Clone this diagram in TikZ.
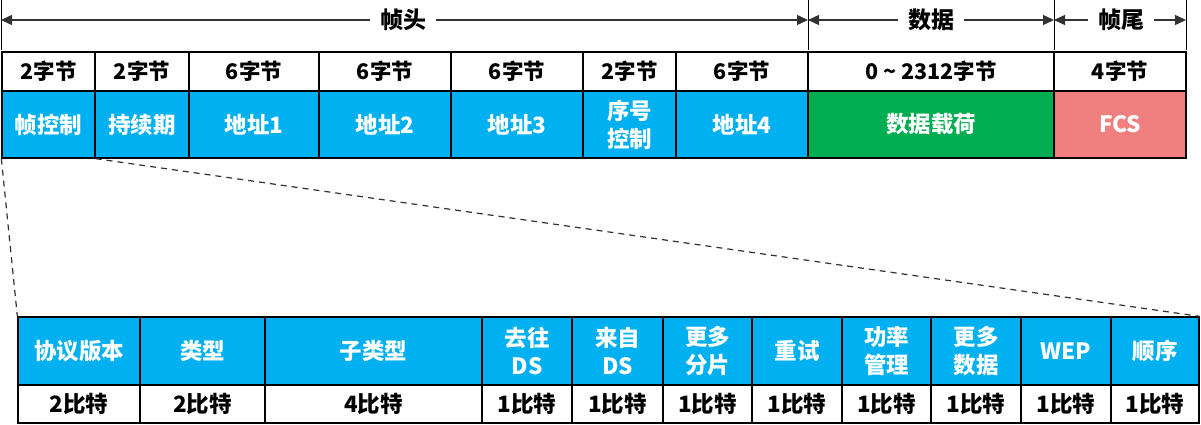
\documentclass[tikz,border=0pt]{standalone}
\usepackage{fontspec}
\setmainfont{Noto Sans CJK SC}
\usetikzlibrary{arrows.meta}
\definecolor{cellblue}{RGB}{0,176,240}
\definecolor{cellgreen}{RGB}{0,173,80}
\definecolor{cellpink}{RGB}{240,128,128}
\definecolor{arrowgray}{RGB}{50,50,50}
\newcommand{\mkcell}[7]{\node[#1, minimum width={#4-#3}, minimum height={#6-#5}] (#2) at ({(#3+#4)/2},{(#5+#6)/2}) {#7};}
\begin{document}
\begin{tikzpicture}[x=1pt,y=-1pt,
  cellbox/.style={draw=black, line width=1.3pt, inner sep=0pt, align=center},
  headcell/.style={cellbox, fill=white, text=black, font=\fontsize{21.5}{24}\selectfont\bfseries},
  bluecell/.style={cellbox, fill=cellblue, text=white, font=\fontsize{22.5}{28}\selectfont\bfseries},
  greencell/.style={cellbox, fill=cellgreen, text=white, font=\fontsize{22.5}{28}\selectfont\bfseries},
  pinkcell/.style={cellbox, fill=cellpink, text=white, font=\fontsize{22.5}{28}\selectfont\bfseries},
  bitcell/.style={cellbox, fill=white, text=black, font=\fontsize{22.5}{28}\selectfont\bfseries},
  spanlabel/.style={inner xsep=10pt, inner ysep=0pt, font=\fontsize{23}{28}\selectfont\bfseries},
  spanarrow/.style={draw=arrowgray, line width=1.3pt, -{Triangle[length=11pt,width=10pt]}},
  tick/.style={draw=black, line width=1pt},
  zoomline/.style={draw=arrowgray, line width=1.2pt, dash pattern=on 6pt off 5pt}]
\useasboundingbox (0,0) rectangle (1201,425);
\fill[white] (0,0) rectangle (1201,425);

% span ticks
\coordinate (k0) at (1,0);
\coordinate (k1) at (808,0);
\coordinate (k2) at (1054,0);
\coordinate (k3) at (1186,0);
\foreach \k in {k0,k1,k2,k3} \draw[tick] (\k) -- ++(0,50);

% span labels
\node[spanlabel] (L1) at (403,20) {帧头};
\node[spanlabel] (L2) at (931,20) {数据};
\node[spanlabel] (L3) at (1121,20) {帧尾};
\draw[spanarrow] (L1.west) -- (L1.west -| k0);
\draw[spanarrow] (L1.east) -- (L1.east -| k1);
\draw[spanarrow] (L2.west) -- (L2.west -| k1);
\draw[spanarrow] (L2.east) -- (L2.east -| k2);
\draw[spanarrow] (L3.west) -- (L3.west -| k2);
\draw[spanarrow] (L3.east) -- (L3.east -| k3);

% top table: byte sizes
\mkcell{headcell}{t1}{2}{95}{52}{91}{2字节}
\mkcell{headcell}{t2}{95}{189}{52}{91}{2字节}
\mkcell{headcell}{t3}{189}{319}{52}{91}{6字节}
\mkcell{headcell}{t4}{319}{451}{52}{91}{6字节}
\mkcell{headcell}{t5}{451}{583}{52}{91}{6字节}
\mkcell{headcell}{t6}{583}{676}{52}{91}{2字节}
\mkcell{headcell}{t7}{676}{808}{52}{91}{6字节}
\mkcell{headcell}{t8}{808}{1054}{52}{91}{0 \textasciitilde{} 2312字节}
\mkcell{headcell}{t9}{1054}{1186}{52}{91}{4字节}

% top table: fields
\mkcell{bluecell}{h1}{2}{95}{91}{158}{帧控制}
\mkcell{bluecell}{h2}{95}{189}{91}{158}{持续期}
\mkcell{bluecell}{h3}{189}{319}{91}{158}{地址1}
\mkcell{bluecell}{h4}{319}{451}{91}{158}{地址2}
\mkcell{bluecell}{h5}{451}{583}{91}{158}{地址3}
\mkcell{bluecell}{h6}{583}{676}{91}{158}{序号\\控制}
\mkcell{bluecell}{h7}{676}{808}{91}{158}{地址4}
\mkcell{greencell}{h8}{808}{1054}{91}{158}{数据载荷}
\mkcell{pinkcell}{h9}{1054}{1186}{91}{158}{FCS}

% bottom table: frame control subfields
\mkcell{bluecell}{b1}{18}{140}{317}{385}{协议版本}
\mkcell{bluecell}{b2}{140}{265}{317}{385}{类型}
\mkcell{bluecell}{b3}{265}{482}{317}{385}{子类型}
\mkcell{bluecell}{b4}{482}{572}{317}{385}{去往\\DS}
\mkcell{bluecell}{b5}{572}{663}{317}{385}{来自\\DS}
\mkcell{bluecell}{b6}{663}{752}{317}{385}{更多\\分片}
\mkcell{bluecell}{b7}{752}{842}{317}{385}{重试}
\mkcell{bluecell}{b8}{842}{931}{317}{385}{功率\\管理}
\mkcell{bluecell}{b9}{931}{1021}{317}{385}{更多\\数据}
\mkcell{bluecell}{b10}{1021}{1111}{317}{385}{WEP}
\mkcell{bluecell}{b11}{1111}{1199}{317}{385}{顺序}

\mkcell{bitcell}{c1}{18}{140}{385}{423}{2比特}
\mkcell{bitcell}{c2}{140}{265}{385}{423}{2比特}
\mkcell{bitcell}{c3}{265}{482}{385}{423}{4比特}
\mkcell{bitcell}{c4}{482}{572}{385}{423}{1比特}
\mkcell{bitcell}{c5}{572}{663}{385}{423}{1比特}
\mkcell{bitcell}{c6}{663}{752}{385}{423}{1比特}
\mkcell{bitcell}{c7}{752}{842}{385}{423}{1比特}
\mkcell{bitcell}{c8}{842}{931}{385}{423}{1比特}
\mkcell{bitcell}{c9}{931}{1021}{385}{423}{1比特}
\mkcell{bitcell}{c10}{1021}{1111}{385}{423}{1比特}
\mkcell{bitcell}{c11}{1111}{1199}{385}{423}{1比特}

% zoom connectors
\draw[zoomline] (h1.south west) -- (b1.north west);
\draw[zoomline] (h1.south east) -- (b11.north east);
\end{tikzpicture}
\end{document}
